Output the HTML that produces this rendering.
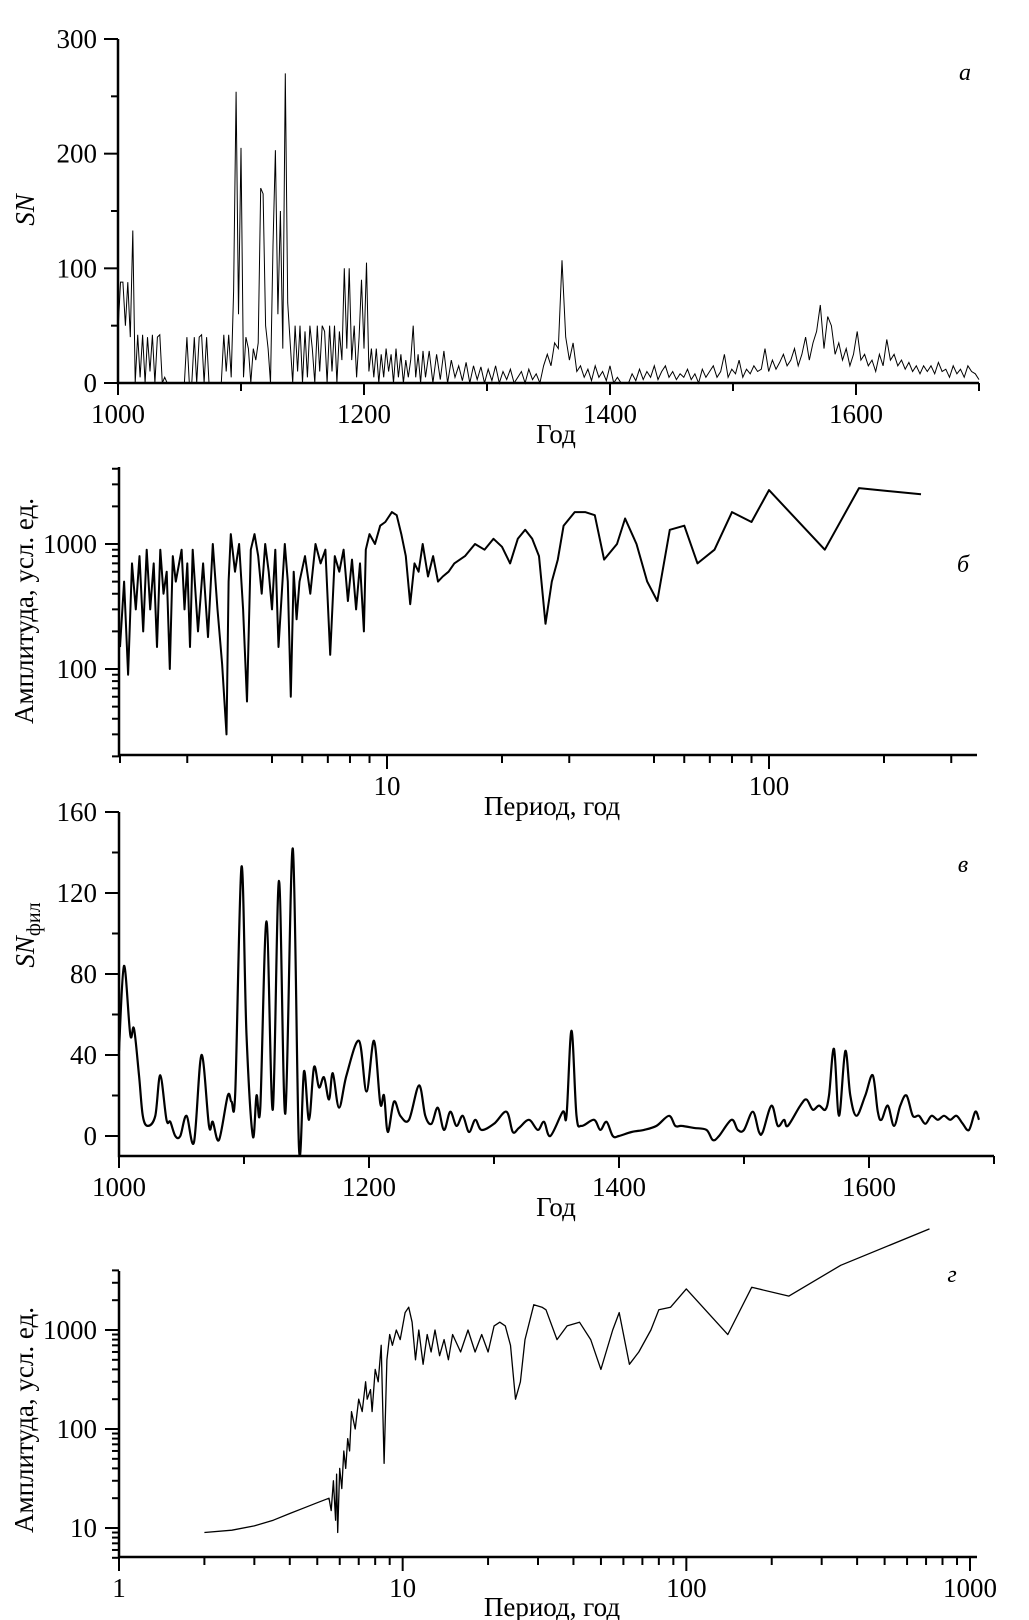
<!DOCTYPE html>
<html><head><meta charset="utf-8"><style>
html,body{margin:0;padding:0;background:#fff;}
svg{display:block;}
text{font-family:"Liberation Serif",serif;fill:#000;}
</style></head><body>
<svg id="chart" width="1029" height="1620" viewBox="0 0 1029 1620" xmlns="http://www.w3.org/2000/svg"></svg>
<script>
// ---------- Panel a: raw SN ----------
const yearsA = [1000,1002,1004,1006,1008,1010,1012,1014,1016,1018,1020,1022,1024,1026,1028,1030,1032,1034,1036,1038,1040,1042,1044,1046,1048,1050,1052,1054,1056,1058,1060,1062,1064,1066,1068,1070,1072,1074,1076,1078,1080,1082,1084,1086,1088,1090,1092,1094,1096,1098,1100,1102,1104,1106,1108,1110,1112,1114,1116,1118,1120,1122,1124,1126,1128,1130,1132,1134,1136,1138,1140,1142,1144,1146,1148,1150,1152,1154,1156,1158,1160,1162,1164,1166,1168,1170,1172,1174,1176,1178,1180,1182,1184,1186,1188,1190,1192,1194,1196,1198,1200,1202,1204,1206,1208,1210,1212,1214,1216,1218,1220,1222,1224,1226,1228,1230,1232,1234,1236,1238,1240,1242,1244,1246,1248,
1250,1253,1256,1259,1262,1265,1268,1271,1274,1277,1280,1283,1286,1289,1292,1295,1298,1301,1304,1307,1310,1313,1316,1319,1322,1325,1328,1331,1334,1337,1340,1343,1346,1349,1352,1355,1358,1361,1364,1367,1370,1373,1376,1379,1382,1385,1388,1391,1394,1397,1400,1403,1406,1409,1412,1415,1418,1421,1424,1427,1430,1433,1436,1439,1442,1445,1448,1451,1454,1457,1460,1463,1466,1469,1472,1475,1478,1481,1484,1487,1490,1493,1496,1499,1502,1505,1508,1511,1514,1517,1520,1523,1526,1529,1532,1535,1538,1541,1544,1547,1550,1553,1556,1559,1562,1565,1568,1571,1574,1577,1580,1583,1586,1589,1592,1595,1598,1601,1604,1607,1610,1613,1616,1619,1622,1625,1628,1631,1634,1637,1640,1643,1646,1649,1652,1655,1658,1661,1664,1667,1670,1673,1676,1679,1682,1685,1688,1691,1694,1697,1700];
const snA = [45,88,88,50,88,40,133,0,42,5,42,0,40,10,42,0,40,42,0,5,0,0,0,0,0,0,0,0,40,0,0,40,0,40,42,0,40,0,0,0,0,0,0,42,10,42,5,80,254,60,205,5,40,30,0,30,20,35,170,165,50,30,0,120,203,60,150,30,270,70,35,0,50,10,50,0,45,5,50,30,0,50,10,50,45,0,50,10,50,0,45,20,100,30,100,20,50,5,40,90,30,105,10,30,5,30,0,25,5,30,10,25,0,30,5,25,0,20,5,20,50,5,25,0,28,
5,28,0,25,3,28,0,20,5,15,2,18,0,15,3,14,0,12,2,15,0,10,3,12,0,5,10,0,12,3,8,0,15,25,15,35,30,107,40,20,35,10,15,5,12,2,15,5,10,2,15,0,5,0,0,0,8,2,12,3,10,5,15,3,10,15,5,10,3,8,5,12,3,8,0,12,5,10,15,5,10,25,5,12,8,20,5,12,8,15,10,12,30,10,20,12,18,25,15,20,30,15,25,40,20,35,45,68,30,58,50,25,35,20,30,15,25,45,20,25,15,20,10,25,15,38,20,25,15,20,12,18,10,15,8,15,10,15,8,18,10,12,5,15,8,12,5,15,10,8,3];
const ticksAx = [1000,1100,1200,1300,1400,1500,1600,1700];
const labelsAx = ["1000","","1200","","1400","","1600",""];
const ticksAy = [0,100,200,300];
const minorAy = [50,150,250];

// ---------- Panel b: spectrum ----------
const periodB = [2.0,2.05,2.1,2.15,2.2,2.25,2.3,2.35,2.4,2.45,2.5,2.55,2.6,2.65,2.7,2.75,2.8,2.9,2.95,3.0,3.05,3.1,3.2,3.3,3.4,3.5,3.6,3.7,3.8,3.85,3.9,4.0,4.1,4.2,4.3,4.4,4.5,4.6,4.7,4.8,4.9,5.0,5.1,5.2,5.4,5.5,5.6,5.7,5.8,5.9,6.1,6.3,6.5,6.7,6.9,7.1,7.3,7.5,7.7,7.9,8.1,8.3,8.5,8.7,8.8,9.0,9.3,9.6,9.9,10.3,10.6,10.9,11.2,11.5,11.8,12.1,12.4,12.8,13.2,13.6,14.0,14.5,15,16,17,18,19,20,21,22,23,24,25,26,27,28,29,31,33,35,37,40,42,45,48,51,55,60,65,72,80,90,100,140,172,250];
const ampB = [150,500,90,700,300,800,200,900,300,700,150,900,400,600,100,800,500,900,300,700,150,900,200,700,180,1000,300,110,30,500,1200,600,1000,300,55,900,1200,800,400,1000,600,300,900,150,1000,500,60,600,250,500,800,400,1000,700,900,130,800,600,900,350,750,300,700,200,900,1200,1000,1400,1500,1800,1700,1200,800,330,700,600,1000,550,800,500,550,600,700,800,1000,900,1100,950,700,1100,1300,1100,800,230,500,750,1400,1800,1800,1700,750,1000,1600,1000,500,350,1300,1400,700,900,1800,1500,2700,900,2800,2500];
const ticksBx = [2,3,5,6,7,8,9,10,20,30,50,60,70,80,90,100,200,300];
const majorBx = [10,100];
const ticksBy = [100,1000];
const minorBy = [20,30,40,50,60,70,80,90,200,300,400,500,600,700,800,900,2000,3000,4000];

// ---------- Panel c: filtered SN ----------
const yearsC = [1000,1004,1009,1012,1016,1019,1023,1029,1033,1038,1041,1045,1049,1054,1060,1066,1072,1075,1080,1087,1090,1093,1098,1102,1107,1110,1113,1118,1123,1128,1133,1139,1144,1148,1152,1156,1160,1164,1168,1171,1176,1182,1192,1198,1204,1209,1212,1215,1220,1225,1232,1240,1245,1250,1255,1260,1265,1270,1275,1280,1285,1290,1300,1310,1315,1320,1328,1335,1340,1345,1355,1358,1362,1366,1370,1380,1385,1390,1395,1400,1410,1420,1430,1440,1445,1450,1460,1470,1475,1480,1490,1495,1500,1507,1512,1515,1522,1527,1532,1535,1545,1550,1555,1560,1565,1568,1572,1576,1581,1585,1590,1597,1603,1607,1610,1615,1620,1625,1630,1635,1640,1645,1650,1655,1660,1665,1670,1675,1680,1685,1688];
const snC = [42,84,50,53,30,10,5,10,30,8,7,0,0,10,-3,40,5,7,-2,20,17,22,133,50,0,20,14,106,13,126,11,142,-6,32,8,34,24,29,18,31,14,30,47,22,47,16,20,2,17,10,8,25,10,6,14,3,12,5,10,2,8,3,6,12,2,4,8,3,7,0,12,10,52,10,5,8,3,7,0,0,2,3,5,10,5,5,4,3,-2,0,8,3,3,12,2,2,15,5,8,5,15,18,13,15,13,20,43,10,42,20,10,20,30,12,8,15,5,15,20,10,10,6,10,8,10,8,10,6,3,12,8];
const ticksCx = [1000,1100,1200,1300,1400,1500,1600,1700];
const labelsCx = ["1000","","1200","","1400","","1600",""];
const ticksCy = [0,40,80,120,160];
const minorCy = [20,60,100,140];

// ---------- Panel d: filtered spectrum ----------
const periodD = [2,2.5,3,3.5,4,4.5,5,5.5,5.6,5.7,5.8,5.85,5.9,6.0,6.1,6.2,6.3,6.4,6.5,6.6,6.8,7.0,7.2,7.4,7.5,7.7,7.8,8.0,8.2,8.4,8.6,8.8,9.0,9.2,9.5,9.8,10.2,10.5,10.8,11.1,11.4,11.8,12.2,12.6,13,13.5,14,14.5,15,16,17,18,19,20,21,22,23,24,25,26,27,29,31,32,35,38,42,46,50,55,58,63,68,75,80,88,100,140,170,230,350,720];
const ampD = [9,9.5,10.5,12,14,16,18,20,15,30,12,35,9,40,25,60,40,80,60,150,100,200,150,300,200,250,150,400,300,700,45,500,900,700,1000,800,1500,1700,1200,500,1000,450,900,600,1000,550,800,500,900,600,1000,600,900,600,1100,1200,1100,700,200,300,800,1800,1700,1600,800,1100,1200,800,400,1000,1500,450,600,1000,1600,1700,2600,900,2700,2200,4500,10500];
const ticksDx = [1,2,3,4,5,6,7,8,9,10,20,30,40,50,60,70,80,90,100,200,300,400,500,600,700,800,900,1000];
const majorDx = [1,10,100,1000];
const labelsDx = ["1","10","100","1000"];
const ticksDy = [10,100,1000];
const minorDy = [5,6,7,8,9,20,30,40,50,60,70,80,90,200,300,400,500,600,700,800,900,2000,3000,4000];

// ---------- scales ----------
const NS = "http://www.w3.org/2000/svg";
const svg = document.getElementById('chart');
function mk(tag, attrs, parent){ const e=document.createElementNS(NS,tag); for(const k in attrs) e.setAttribute(k,attrs[k]); (parent||svg).appendChild(e); return e; }
function linScale(d0,d1,r0,r1){ return v => r0+(v-d0)*(r1-r0)/(d1-d0); }
function logScale(d0,d1,r0,r1){ return v => r0+(Math.log10(v)-Math.log10(d0))*(r1-r0)/(Math.log10(d1)-Math.log10(d0)); }

const xA = linScale(1000,1700,118,979), yA = linScale(0,300,383,39);
const xB = logScale(10,100,387,769), yB = logScale(100,1000,669,544);
const xC = linScale(1000,1700,119,994), yC = linScale(0,160,1136,812);
const xD = logScale(1,1000,119,970), yD = logScale(10,1000,1528,1330);

function pathFrom(xs, ys, fx, fy){ return xs.map((v,i)=>(i?'L':'M')+fx(v).toFixed(1)+','+fy(ys[i]).toFixed(1)).join(''); }
function smoothPath(xs, ys, fx, fy){
  const p = xs.map((v,i)=>[fx(v), fy(ys[i])]);
  let d = 'M'+p[0][0].toFixed(1)+','+p[0][1].toFixed(1);
  for(let i=0;i<p.length-1;i++){
    const p0=p[Math.max(0,i-1)], p1=p[i], p2=p[i+1], p3=p[Math.min(p.length-1,i+2)];
    const c1=[p1[0]+(p2[0]-p0[0])/6, p1[1]+(p2[1]-p0[1])/6];
    const c2=[p2[0]-(p3[0]-p1[0])/6, p2[1]-(p3[1]-p1[1])/6];
    d += 'C'+c1[0].toFixed(1)+','+c1[1].toFixed(1)+' '+c2[0].toFixed(1)+','+c2[1].toFixed(1)+' '+p2[0].toFixed(1)+','+p2[1].toFixed(1);
  }
  return d;
}

function axes(g, x0,x1,y0,y1){
  const ax=mk('path',{d:`M${x0},${y0}V${y1}H${x1}`,fill:'none',stroke:'#000','stroke-width':2.5},g);
  
  
}
function xtick(g,x,y,len){ const t=mk('line',{x1:x,x2:x,y1:y,y2:y+len,stroke:'#000','stroke-width':2},g);
  
   }
function ytick(g,x,y,len){ const t=mk('line',{x1:x-len,x2:x,y1:y,y2:y,stroke:'#000','stroke-width':2},g);
  
   }
function txt(g,x,y,s,anchor,name,extra){ const t=mk('text',Object.assign({x:x,y:y,'font-size':27,'text-anchor':anchor||'middle'},extra||{}),g); t.textContent=s;
  
   return t; }
function panelLetter(g,x,y,s){ const t=txt(g,x,y,s,'middle','panel-letter',{'font-style':'italic','font-size':24}); return t; }

// ---------- Panel a ----------
const gA = mk('g',{});


axes(gA,118,979,39,383);
ticksAx.forEach((v,i)=>{ xtick(gA,xA(v),383,i%2?8:12); if(labelsAx[i]) txt(gA,xA(v),423,labelsAx[i],'middle','x-tick-label'); });
ticksAy.forEach(v=>{ ytick(gA,118,yA(v),14); txt(gA,97,yA(v)+9,String(v),'end','y-tick-label'); });
minorAy.forEach(v=>ytick(gA,118,yA(v),7));
const lineA = mk('path',{d:pathFrom(yearsA,snA,xA,yA),fill:'none',stroke:'#000','stroke-width':1},gA);


txt(gA,556,443,'Год','middle','x-axis-title');
txt(gA,0,0,'SN','middle','y-axis-title',{transform:'translate(34,210) rotate(-90)','font-style':'italic'});
panelLetter(gA,965,80,'а');

// ---------- Panel b ----------
const gB = mk('g',{});


axes(gB,119,977,467,755);
ticksBx.forEach(v=>xtick(gB,xB(v),755,majorBx.includes(v)?14:8));
majorBx.forEach(v=>txt(gB,xB(v),795,String(v),'middle','x-tick-label'));
ticksBy.forEach(v=>{ ytick(gB,119,yB(v),14); txt(gB,97,yB(v)+9,String(v),'end','y-tick-label'); });
minorBy.forEach(v=>ytick(gB,119,yB(v),7));
const lineB = mk('path',{d:pathFrom(periodB,ampB,xB,yB),fill:'none',stroke:'#000','stroke-width':2,'stroke-linejoin':'round'},gB);


txt(gB,552,815,'Период, год','middle','x-axis-title');
txt(gB,0,0,'Амплитуда, усл. ед.','middle','y-axis-title',{transform:'translate(33,611) rotate(-90)'});
panelLetter(gB,963,572,'б');

// ---------- Panel c ----------
const gC = mk('g',{});


axes(gC,119,994,812,1156);
ticksCx.forEach((v,i)=>{ xtick(gC,xC(v),1156,i%2?8:12); if(labelsCx[i]) txt(gC,xC(v),1196,labelsCx[i],'middle','x-tick-label'); });
ticksCy.forEach(v=>{ ytick(gC,119,yC(v),14); txt(gC,97,yC(v)+9,String(v),'end','y-tick-label'); });
minorCy.forEach(v=>ytick(gC,119,yC(v),7));
const lineC = mk('path',{d:smoothPath(yearsC,snC,xC,yC),fill:'none',stroke:'#000','stroke-width':2.2,'stroke-linejoin':'round'},gC);


txt(gC,556,1216,'Год','middle','x-axis-title');
const yt = txt(gC,0,0,'SN','middle','y-axis-title',{transform:'translate(34,935) rotate(-90)','font-style':'italic'});
const sub = mk('tspan',{'font-style':'normal','font-size':20,dy:6},yt); sub.textContent='фил';
panelLetter(gC,963,872,'в');

// ---------- Panel d ----------
const gD = mk('g',{});


axes(gD,119,977,1271,1557);
ticksDx.forEach(v=>xtick(gD,xD(v),1557,majorDx.includes(v)?14:8));
majorDx.forEach((v,i)=>txt(gD,xD(v),1597,labelsDx[i],'middle','x-tick-label'));
ticksDy.forEach(v=>{ ytick(gD,119,yD(v),14); txt(gD,97,yD(v)+9,String(v),'end','y-tick-label'); });
minorDy.forEach(v=>ytick(gD,119,yD(v),7));
const lineD = mk('path',{d:pathFrom(periodD,ampD,xD,yD),fill:'none',stroke:'#000','stroke-width':1.3,'stroke-linejoin':'round'},gD);


txt(gD,552,1616,'Период, год','middle','x-axis-title');
txt(gD,0,0,'Амплитуда, усл. ед.','middle','y-axis-title',{transform:'translate(33,1420) rotate(-90)'});
panelLetter(gD,952,1282,'г');
</script>
</body></html>
